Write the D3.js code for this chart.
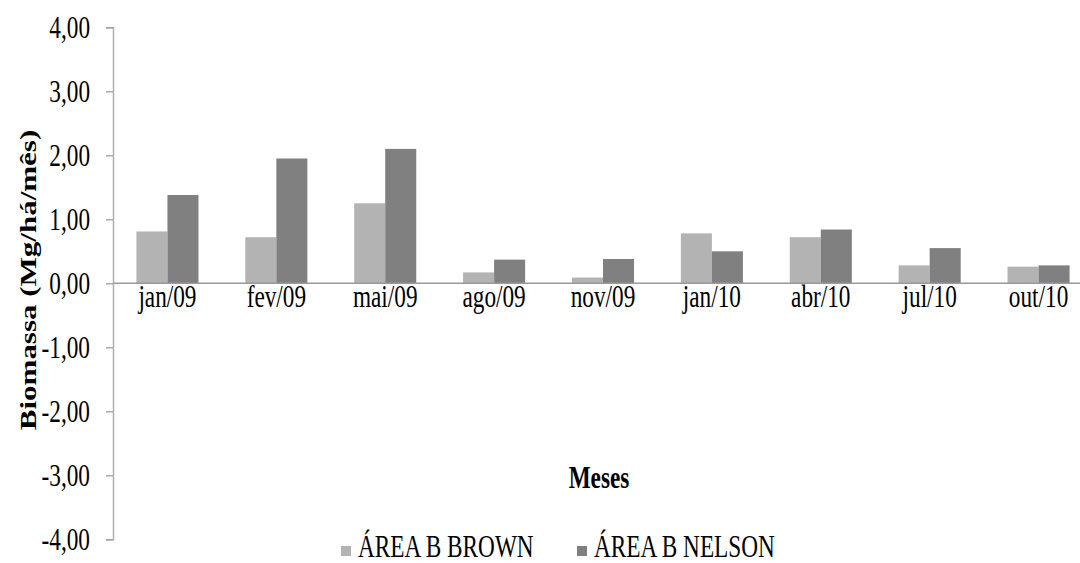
<!DOCTYPE html>
<html>
<head>
<meta charset="utf-8">
<script src="https://cdn.jsdelivr.net/npm/d3@7"></script>
<style>
  html, body { margin: 0; padding: 0; background: #fff; }
  svg { display: block; }
  svg text { font-family: "Liberation Serif", "Times New Roman", serif; fill: #000; }
</style>
</head>
<body>
<script>
// Monthly biomass (Mg/há/mês) for the two areas
const months = ["jan/09", "fev/09", "mai/09", "ago/09", "nov/09", "jan/10", "abr/10", "jul/10", "out/10"];
const brown  = [0.81, 0.72, 1.25, 0.17, 0.09, 0.78, 0.72, 0.28, 0.26];
const nelson = [1.38, 1.95, 2.10, 0.37, 0.38, 0.50, 0.84, 0.55, 0.28];
const seriesNames = ["ÁREA B BROWN", "ÁREA B NELSON"];
const seriesColors = ["#b3b3b3", "#808080"];
const yTicks = [-4, -3, -2, -1, 0, 1, 2, 3, 4];

const W = 1080, H = 563;
const FS = 31;        // font size
const SX = 0.75;      // horizontal glyph compression
const SERIF = "'Liberation Serif', 'Times New Roman', serif";

const svg = d3.select("body").append("svg").attr("width", W).attr("height", H)
  .attr("font-family", SERIF);

const x0 = d3.scaleBand().domain(months).range([113, 1093]).paddingInner(0.43).paddingOuter(0.215);
const x1 = d3.scaleBand().domain([0, 1]).range([0, x0.bandwidth()]);
const y = d3.scaleLinear().domain([-4, 4]).range([539.3, 27.3]);

const fmt = v => d3.format(".2f")(v).replace(".", ",").replace("−", "-");

// bars
const data = months.map((m, i) => ({ m, vals: [brown[i], nelson[i]] }));
const groups = svg.append("g").selectAll("g").data(data).join("g")
  .attr("transform", d => `translate(${x0(d.m)},0)`);
groups.selectAll("rect").data(d => d.vals.map((v, k) => ({ v, k }))).join("rect")
  .attr("x", d => x1(d.k))
  .attr("width", x1.bandwidth())
  .attr("y", d => y(Math.max(0, d.v)))
  .attr("height", d => Math.abs(y(d.v) - y(0)))
  .attr("fill", d => seriesColors[d.k]);

// y axis
const yAxis = svg.append("g").attr("transform", "translate(113,0)")
  .call(d3.axisLeft(y).tickValues(yTicks).tickSize(7).tickFormat(fmt))
  .attr("font-family", SERIF);
yAxis.select(".domain").attr("stroke", "#b0b0b0").attr("stroke-width", 1.5);
yAxis.selectAll(".tick line").attr("stroke", "#a0a0a0").attr("stroke-width", 1.3);
yAxis.selectAll(".tick text")
  .attr("x", null).attr("dy", null)
  .attr("transform", `translate(-23,${0.34 * FS}) scale(${SX},1)`)
  .attr("font-family", SERIF)
  .style("font-size", FS + "px")
  .attr("fill", "#000");

// zero line (category axis)
svg.append("line")
  .attr("x1", 113).attr("x2", x0.range()[1])
  .attr("y1", y(0)).attr("y2", y(0))
  .attr("stroke", "#999").attr("stroke-width", 1.6);

// category labels
svg.append("g").selectAll("text").data(months).join("text")
  .attr("transform", d => `translate(${x0(d) + x0.bandwidth() / 2},307) scale(${SX},1)`)
  .attr("text-anchor", "middle")
  .attr("font-family", SERIF)
  .style("font-size", FS + "px")
  .text(d => d);

// axis titles
svg.append("text")
  .attr("transform", `translate(36,280) scale(${SX},1) rotate(-90)`)
  .attr("text-anchor", "middle")
  .attr("font-family", SERIF)
  .style("font-size", FS + "px").style("font-weight", "bold")
  .text("Biomassa (Mg/há/mês)");

svg.append("text")
  .attr("transform", `translate(599,488) scale(${SX},1)`)
  .attr("text-anchor", "middle")
  .attr("font-family", SERIF)
  .style("font-size", FS + "px").style("font-weight", "bold")
  .text("Meses");

// legend
const legendX = [341, 577];
const legend = svg.append("g").selectAll("g").data(seriesNames).join("g")
  .attr("transform", (d, i) => `translate(${legendX[i]},0)`);
legend.append("rect").attr("x", 0).attr("y", 546).attr("width", 10).attr("height", 10)
  .attr("fill", (d, i) => seriesColors[i]);
legend.append("text")
  .attr("transform", `translate(17,557) scale(${SX},1)`)
  .attr("font-family", SERIF)
  .style("font-size", FS + "px")
  .text(d => d);
</script>
</body>
</html>
